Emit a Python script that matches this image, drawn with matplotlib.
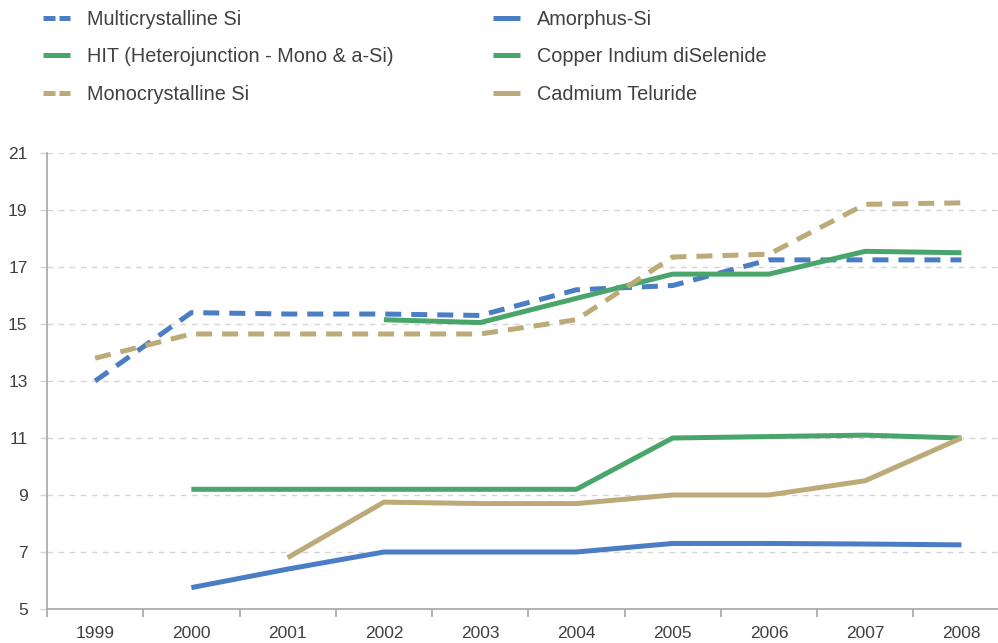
import matplotlib
matplotlib.use("Agg")
import matplotlib.pyplot as plt
from matplotlib.lines import Line2D

years = ["1999", "2000", "2001", "2002", "2003", "2004", "2005", "2006", "2007", "2008"]

multicrystalline = [13.0, 15.4, 15.35, 15.35, 15.3, 16.2, 16.35, 17.25, 17.25, 17.25]
monocrystalline = [13.8, 14.65, 14.65, 14.65, 14.65, 15.15, 17.35, 17.45, 19.2, 19.25]
hit = [None, None, None, 15.15, 15.05, 15.9, 16.75, 16.75, 17.55, 17.5]
amorphus = [None, 5.75, 6.4, 7.0, 7.0, 7.0, 7.3, 7.3, 7.28, 7.25]
cis = [None, 9.2, 9.2, 9.2, 9.2, 9.2, 11.0, 11.05, 11.1, 11.0]
cdte = [None, None, 6.8, 8.75, 8.7, 8.7, 9.0, 9.0, 9.5, 11.0]

labels = ["Multicrystalline Si", "HIT (Heterojunction - Mono & a-Si)", "Monocrystalline Si",
          "Amorphus-Si", "Copper Indium diSelenide", "Cadmium Teluride"]

BLUE = "#4a7dc3"
GREEN = "#4aa56b"
TAN = "#bcaa78"
TXT = "#404040"

plt.rcParams['font.family'] = ['Liberation Sans', 'DejaVu Sans']

fig = plt.figure(figsize=(9.98, 6.43), dpi=100)
ax = fig.add_axes([47/998, 1-609/643, 1-47/998, (609-153)/643])

def series(vals):
    xs = [i for i, v in enumerate(vals) if v is not None]
    ys = [v for v in vals if v is not None]
    return xs, ys

lw = 3.6
dash = (3.2, 2.0)
styles = [
    (multicrystalline, BLUE, True),
    (hit, GREEN, False),
    (monocrystalline, TAN, True),
    (amorphus, BLUE, False),
    (cis, GREEN, False),
    (cdte, TAN, False),
]
handles = []
for (vals, col, dashed), lab in zip(styles, labels):
    xs, ys = series(vals)
    kw = dict(color=col, lw=lw, solid_capstyle='butt', dash_capstyle='butt', solid_joinstyle='round', zorder=3)
    if dashed:
        ax.plot(xs, ys, linestyle=(0, dash), label=lab, **kw)
        h = Line2D([], [], color=col, lw=lw, linestyle=(0, (2.4, 0.8)), dash_capstyle='butt')
    else:
        ax.plot(xs, ys, linestyle='-', label=lab, **kw)
        h = Line2D([], [], color=col, lw=lw, linestyle='-', solid_capstyle='butt')
    handles.append(h)

ax.set_yticks(range(5, 22, 2))
ax.set_xticks(range(len(years)))
ax.set_xticklabels(years)
ax.set_xticks([i - 0.5 for i in range(len(years) + 1)], minor=True)
ax.set_xlim(-0.5, 9.38)
ax.set_ylim(5, 21)

ax.grid(axis='y', color='#d4d4d4', linestyle=(0, (4, 4)), linewidth=1.0, zorder=0)
for s in ['top', 'right']:
    ax.spines[s].set_visible(False)
for s in ['left', 'bottom']:
    ax.spines[s].set_color('#a6a6a6')
    ax.spines[s].set_linewidth(1.2)

ax.tick_params(axis='x', which='major', length=0, pad=12, labelsize=12.5, labelcolor=TXT)
ax.tick_params(axis='x', which='minor', length=5.8, width=1.2, color='#a6a6a6')
ax.tick_params(axis='y', which='major', length=5, width=1.0, color='#d4d4d4', pad=9,
               labelsize=12.5, labelcolor=TXT)

legkw = dict(frameon=False, fontsize=14.3, handlelength=1.36, handletextpad=0.86,
             labelspacing=0.92, borderpad=0, borderaxespad=0, loc='upper left',
             bbox_transform=fig.transFigure, labelcolor=TXT)
leg1 = fig.legend(handles[:3], labels[:3], bbox_to_anchor=(43/998, 1-10/643), **legkw)
leg2 = fig.legend(handles[3:], labels[3:], bbox_to_anchor=(493/998, 1-10/643), **legkw)

fig.savefig("out.png", dpi=100)
